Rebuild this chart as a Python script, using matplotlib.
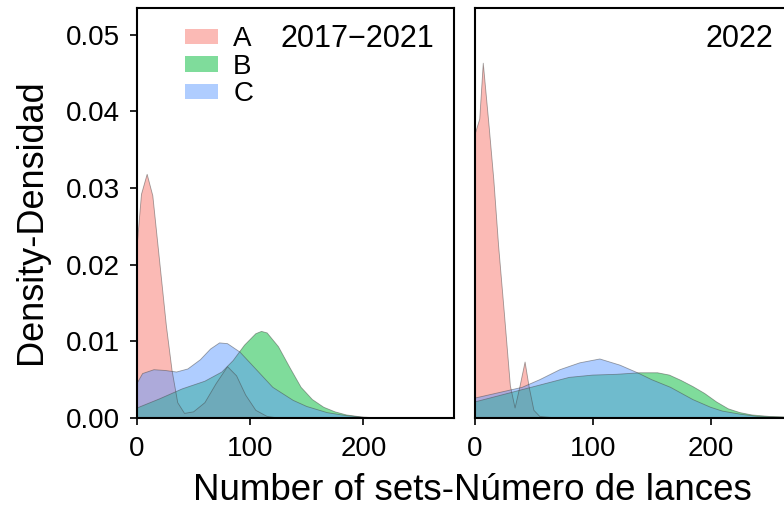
import matplotlib.pyplot as plt

plt.rcParams['font.family'] = ['Liberation Sans', 'DejaVu Sans']

groups = ['A', 'B', 'C']
colors = ['#F8766D', '#00BA38', '#619CFF']
periods = ['2017\u22122021', '2022']

# density estimates read per group, 2017-2021
a1_x = [0, 4, 9, 14, 20, 26, 31, 36, 42, 50, 60, 70, 80, 88, 96, 105, 115, 125, 280]
a1_y = [0.0222, 0.0292, 0.0318, 0.0290, 0.0205, 0.0120, 0.0062, 0.0020, 0.0006, 0.0008,
        0.0020, 0.0045, 0.0067, 0.0055, 0.0030, 0.0010, 0.0002, 0.0, 0.0]
b1_x = [0, 20, 40, 60, 75, 85, 95, 105, 110, 115, 125, 135, 145, 155, 165, 175, 185, 200, 220, 280]
b1_y = [0.0013, 0.0025, 0.0038, 0.0048, 0.0060, 0.0075, 0.0095, 0.0110, 0.0113, 0.0111,
        0.0093, 0.0066, 0.0040, 0.0024, 0.0014, 0.0008, 0.0004, 0.0001, 0.0, 0.0]
c1_x = [0, 5, 15, 25, 35, 45, 56, 65, 73, 80, 91, 103, 120, 138, 150, 168, 185, 200, 220, 280]
c1_y = [0.0045, 0.0058, 0.0063, 0.0062, 0.0060, 0.0064, 0.0076, 0.0090, 0.0098, 0.0097,
        0.0086, 0.0067, 0.0040, 0.0023, 0.0015, 0.0007, 0.0003, 0.0001, 0.0, 0.0]

# density estimates read per group, 2022
a2_x = [0, 4, 7, 12, 16, 20, 25, 30, 34, 38, 42.5, 46, 50, 55, 70, 270]
a2_y = [0.0370, 0.0390, 0.0463, 0.0380, 0.0310, 0.0225, 0.0135, 0.0042, 0.0013, 0.0040,
        0.0073, 0.0040, 0.0010, 0.0002, 0.0, 0.0]
b2_x = [0, 20, 40, 60, 80, 100, 120, 140, 155, 165, 175, 185, 195, 205, 215, 225, 235, 250, 270]
b2_y = [0.0021, 0.0029, 0.0037, 0.0045, 0.0053, 0.0056, 0.0057, 0.0059, 0.0059, 0.0056,
        0.0049, 0.0041, 0.0032, 0.0021, 0.0012, 0.0007, 0.0004, 0.0002, 0.0001]
c2_x = [0, 20, 40, 55, 72, 89, 106, 123, 138, 150, 166, 185, 200, 210, 225, 240, 260, 270]
c2_y = [0.0026, 0.0033, 0.0040, 0.0050, 0.0063, 0.0072, 0.0077, 0.0069, 0.0059, 0.0050,
        0.0040, 0.0024, 0.0014, 0.0009, 0.0005, 0.0002, 0.0001, 0.0]

panels = [
    [(a1_x, a1_y), (b1_x, b1_y), (c1_x, c1_y)],
    [(a2_x, a2_y), (b2_x, b2_y), (c2_x, c2_y)],
]
xmax = [280, 270]

fig = plt.figure(figsize=(7.84, 5.09), dpi=100)
ax1 = fig.add_axes([0.1747, 0.1788, 0.4043, 0.8054])
ax2 = fig.add_axes([0.6059, 0.1788, 0.4056, 0.8054])

for i, ax in enumerate([ax1, ax2]):
    for (xs, ys), g, c in zip(panels[i], groups, colors):
        ax.fill_between(xs, 0, ys, facecolor=c, alpha=0.5, edgecolor='none', label=g)
        ax.plot(xs, ys, color='#444444', lw=0.6, alpha=0.5)
    ax.set_xlim(0, xmax[i])
    ax.set_ylim(0, 0.0535)
    ax.set_xticks([0, 100, 200])
    ax.tick_params(axis='both', direction='out', length=5, width=1.2,
                   labelsize=20, colors='black')
    ax.tick_params(axis='x', pad=8)
    ax.tick_params(axis='y', pad=7)
    for s in ax.spines.values():
        s.set_linewidth(1.5)
    ax.text(0.938, 0.962, periods[i], transform=ax.transAxes, ha='right', va='top',
            fontsize=22)

ax1.set_yticks([0.0, 0.01, 0.02, 0.03, 0.04, 0.05])
ax1.set_yticklabels(['0.00', '0.01', '0.02', '0.03', '0.04', '0.05'])
ax2.set_yticks([])

ax1.legend(loc='upper left', bbox_to_anchor=(0.151, 0.955), frameon=False,
           fontsize=20, handlelength=1.19, handleheight=0.47, labelspacing=0.05,
           handletextpad=0.55, borderpad=0, borderaxespad=0)

fig.text(0.04, 0.564, 'Density-Densidad', rotation=90, ha='center', va='center',
         fontsize=26)
fig.text(0.602, 0.0177, 'Number of sets-N\u00famero de lances', ha='center',
         va='baseline', fontsize=26.5)

fig.savefig('out.png', dpi=100)
